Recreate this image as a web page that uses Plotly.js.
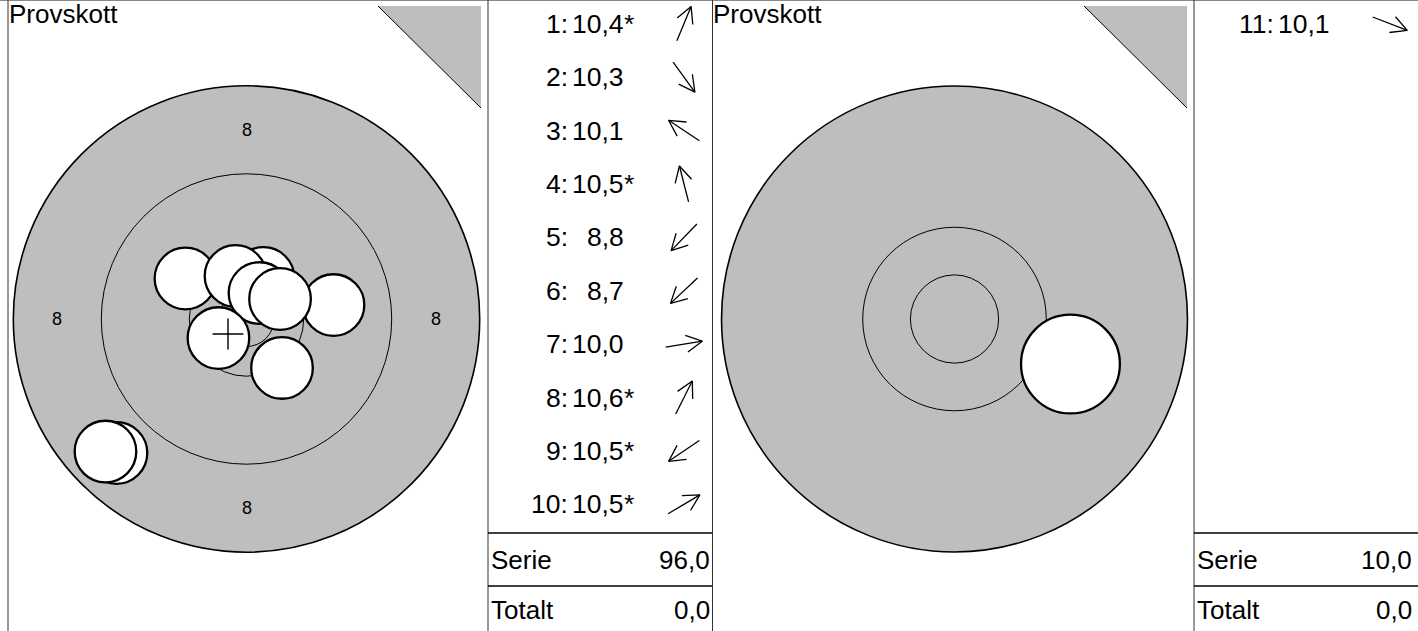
<!DOCTYPE html>
<html><head><meta charset="utf-8">
<script src="https://cdn.plot.ly/plotly-3.0.1.min.js"></script>
<style>html,body{margin:0;padding:0;background:#fff;overflow:hidden}#chart{width:1418px;height:631px}</style>
</head><body><div id="chart"></div>
<script>
// ---------------- data ----------------
const panelTitle = 'Provskott';
const serieLabel = 'Serie';
const totalLabel = 'Totalt';
// series 1 (left target), positions in mm from centre
const shotNumbers = [1, 2, 3, 4, 5, 6, 7, 8, 9, 10];
const shotX = [1.55, 3.23, -5.55, -1.00, -11.82, -12.82, 7.91, 1.18, -2.55, 3.05];
const shotY = [3.73, -4.45, 3.68, 3.91, -12.18, -12.05, 1.27, 2.36, -1.73, 1.82];
const shotScores = [10.4, 10.3, 10.1, 10.5, 8.8, 8.7, 10.0, 10.6, 10.5, 10.5];
const shotInnerTen = [true, false, false, true, false, false, false, true, true, true];
// series 2 (right target)
const shot2Numbers = [11];
const shot2X = [6.57];
const shot2Y = [-2.55];
const shot2Scores = [10.1];
const shot2InnerTen = [false];
const totalValues = [0.0, 0.0];
// target geometry (mm): 8-ring, 9-ring, 10-ring, inner ten
const ringRadii = [21.2, 13.2, 5.2, 2.5];
const ringLabel = '8';
const bulletRadius = 2.8;

// ---------------- layout helpers ----------------
const W = 1418, H = 631;
const FONT = 'Liberation Sans, Arial, Helvetica, sans-serif';
const GRAY = '#bebebe';
const P = {t1: [8, 488], l1: [488, 712], t2: [712, 1194], l2: [1194, 1418]};
const T1 = {cx: 246.5, cy: 319, s: 11.0};
const T2 = {cx: 954.5, cy: 319, s: 17.65};
const fmt = v => v.toFixed(1).replace('.', ',');

function ranges(p, t) {
  return {x: [(p[0] - t.cx) / t.s, (p[1] - t.cx) / t.s], y: [(t.cy - H) / t.s, t.cy / t.s]};
}
const r1 = ranges(P.t1, T1), r2 = ranges(P.t2, T2);

const shapes = [];
const annotations = [];
const traces = [];

function targetShapes(xref, yref, radii, xs, ys) {
  radii.forEach((r, i) => shapes.push({
    type: 'circle', xref, yref, x0: -r, x1: r, y0: -r, y1: r, layer: 'below',
    fillcolor: i === 0 ? GRAY : 'rgba(0,0,0,0)', line: {color: '#000', width: i === 0 ? 1.6 : 1}
  }));
  xs.forEach((x, i) => shapes.push({
    type: 'circle', xref, yref, layer: 'below',
    x0: x - bulletRadius, x1: x + bulletRadius, y0: ys[i] - bulletRadius, y1: ys[i] + bulletRadius,
    fillcolor: '#fff', line: {color: '#000', width: 2.3}
  }));
}
targetShapes('x', 'y', ringRadii, shotX, shotY);
targetShapes('x2', 'y2', ringRadii.slice(1), shot2X, shot2Y);

// ring labels "8"
const labR = (ringRadii[0] + ringRadii[1]) / 2;
[[0, labR], [0, -labR], [labR, 0], [-labR, 0]].forEach(([x, y]) => annotations.push({
  xref: 'x', yref: 'y', x, y, text: ringLabel, showarrow: false,
  font: {family: FONT, size: 18, color: '#000'}, xanchor: 'center', yanchor: 'middle'
}));

// mean point of impact
const mean = a => a.reduce((s, v) => s + v, 0) / a.length;
traces.push({
  type: 'scatter', mode: 'markers', xaxis: 'x', yaxis: 'y',
  x: [mean(shotX)], y: [mean(shotY)], hoverinfo: 'skip',
  marker: {symbol: 'cross-thin', size: 22, color: '#000', line: {color: '#000', width: 1.4}}
});
traces.push({type: 'scatter', mode: 'markers', xaxis: 'x2', yaxis: 'y2', x: [], y: [], hoverinfo: 'skip'});

// pixel helper shapes (x3/y3)
function pline(x0, y0, x1, y1, color, width) {
  shapes.push({type: 'line', xref: 'x3', yref: 'y3', x0, y0, x1, y1, line: {color, width}, layer: 'above'});
}
// frame
pline(0, 0.5, W, 0.5, '#8a8a8a', 1);
[8, 488, 712.5, 1194].forEach(x => pline(x, 0, x, H, '#333', 1));

// sighter triangles
[P.t1, P.t2].forEach(p => {
  const xr = p[1] - 7, xl = xr - 103, yt = 6, yb = 108;
  shapes.push({type: 'path', xref: 'x3', yref: 'y3', layer: 'above',
    path: `M${xl},${yt} L${xr},${yt} L${xr},${yb} Z`, fillcolor: GRAY, line: {width: 0}});
  pline(xl, yt, xr, yb, '#000', 1);
  annotations.push({xref: 'x3', yref: 'y3', x: p[0] + 0.5, y: 13.5, text: panelTitle, showarrow: false,
    xanchor: 'left', yanchor: 'middle', borderpad: 0, borderwidth: 0,
    font: {family: FONT, size: 26, color: '#000'}});
});

// shot lists
const rowY = i => 23.7 + i * 53.4;
function list(p, nums, scores, inner, xs, ys, total) {
  const L = p[0], R = p[1];
  const ax = [], ay = [];
  nums.forEach((n, i) => {
    const y = rowY(i);
    annotations.push({xref: 'x3', yref: 'y3', x: L + 80, y, text: n + ':', showarrow: false,
      xanchor: 'right', yanchor: 'middle', borderpad: 0, borderwidth: 0, font: {family: FONT, size: 26.5, color: '#000'}});
    annotations.push({xref: 'x3', yref: 'y3', x: L + 135.5, y, text: fmt(scores[i]), showarrow: false,
      xanchor: 'right', yanchor: 'middle', borderpad: 0, borderwidth: 0, font: {family: FONT, size: 26.5, color: '#000'}});
    if (inner[i]) annotations.push({xref: 'x3', yref: 'y3', x: L + 135.5, y, text: '*', showarrow: false,
      xanchor: 'left', yanchor: 'middle', borderpad: 0, borderwidth: 0, font: {family: FONT, size: 26.5, color: '#000'}});
    // direction arrow
    const d = Math.hypot(xs[i], ys[i]);
    const ux = xs[i] / d, uy = -ys[i] / d;
    const cx = L + 196, half = 18.5, hl = 18, ha = 28 * Math.PI / 180;
    const tx = cx + ux * half, ty = y + uy * half;
    const bx = cx - ux * half, by = y - uy * half;
    const back = Math.atan2(-uy, -ux);
    ax.push(bx, tx, null,
      tx + hl * Math.cos(back + ha), tx, tx + hl * Math.cos(back - ha), null);
    ay.push(by, ty, null,
      ty + hl * Math.sin(back + ha), ty, ty + hl * Math.sin(back - ha), null);
  });
  traces.push({type: 'scatter', mode: 'lines', xaxis: 'x3', yaxis: 'y3', x: ax, y: ay,
    line: {color: '#000', width: 1.3}, hoverinfo: 'skip', connectgaps: false});
  pline(L, 533, R, 533, '#000', 1.3);
  pline(L, 586, R, 586, '#000', 1.3);
  const serie = scores.reduce((s, v) => s + Math.floor(v + 1e-9), 0);
  [[serieLabel, fmt(serie), 559.5], [totalLabel, fmt(total), 609.5]].forEach(([lab, val, y]) => {
    annotations.push({xref: 'x3', yref: 'y3', x: L + 3, y, text: lab, showarrow: false, xanchor: 'left', yanchor: 'middle',
      borderpad: 0, borderwidth: 0, font: {family: FONT, size: 26, color: '#000'}});
    annotations.push({xref: 'x3', yref: 'y3', x: Math.min(R, 1414) - 2, y, text: val, showarrow: false, xanchor: 'right', yanchor: 'middle',
      borderpad: 0, borderwidth: 0, font: {family: FONT, size: 26, color: '#000'}});
  });
}
list(P.l1, shotNumbers, shotScores, shotInnerTen, shotX, shotY, totalValues[0]);
list(P.l2, shot2Numbers, shot2Scores, shot2InnerTen, shot2X, shot2Y, totalValues[1]);

const hid = {visible: false, fixedrange: true, showgrid: false, zeroline: false};
const layout = {
  width: W, height: H, margin: {l: 0, r: 0, t: 0, b: 0},
  paper_bgcolor: '#fff', plot_bgcolor: 'rgba(0,0,0,0)', showlegend: false,
  xaxis: Object.assign({domain: [P.t1[0] / W, P.t1[1] / W], range: r1.x, anchor: 'y'}, hid),
  yaxis: Object.assign({domain: [0, 1], range: r1.y, anchor: 'x'}, hid),
  xaxis2: Object.assign({domain: [P.t2[0] / W, P.t2[1] / W], range: r2.x, anchor: 'y2'}, hid),
  yaxis2: Object.assign({domain: [0, 1], range: r2.y, anchor: 'x2'}, hid),
  xaxis3: Object.assign({domain: [0, 1], range: [0, W], anchor: 'y3'}, hid),
  yaxis3: Object.assign({domain: [0, 1], range: [H, 0], anchor: 'x3'}, hid),
  shapes, annotations
};
Plotly.newPlot('chart', traces, layout, {staticPlot: true, displayModeBar: false});
</script></body></html>
